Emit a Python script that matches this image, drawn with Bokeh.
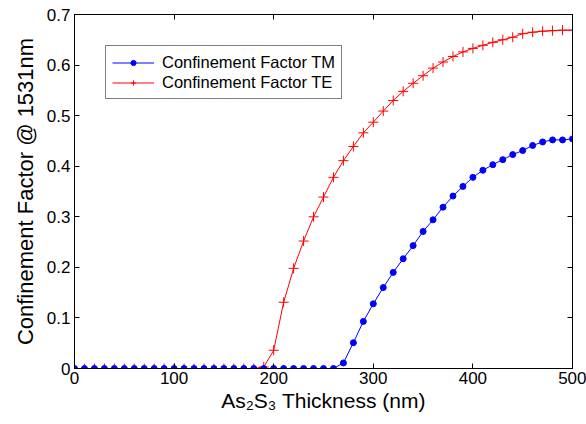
from bokeh.plotting import figure
from bokeh.models import (Range1d, LinearAxis, Legend, LegendItem, NumeralTickFormatter,
                          FixedTicker, CustomLabelingPolicy)
from bokeh.embed import file_html
from bokeh.resources import INLINE

thickness = [0, 10, 20, 30, 40, 50, 60, 70, 80, 90, 100, 110, 120, 130, 140, 150, 160, 170, 180,
             190, 200, 210, 220, 230, 240, 250, 260, 270, 280, 290, 300, 310, 320, 330, 340, 350,
             360, 370, 380, 390, 400, 410, 420, 430, 440, 450, 460, 470, 480, 490, 500]

cf_te = [0, 0, 0, 0, 0, 0, 0, 0, 0, 0, 0, 0, 0, 0, 0, 0, 0, 0, 0,
         0.003, 0.036, 0.131, 0.198, 0.252, 0.300, 0.339, 0.378, 0.411, 0.439, 0.466, 0.487,
         0.509, 0.530, 0.548, 0.564, 0.579, 0.594, 0.606, 0.617, 0.626, 0.633, 0.639, 0.645,
         0.650, 0.655, 0.662, 0.665, 0.667, 0.668, 0.669, 0.669]

cf_tm = [0, 0, 0, 0, 0, 0, 0, 0, 0, 0, 0, 0, 0, 0, 0, 0, 0, 0, 0, 0, 0, 0, 0, 0, 0, 0, 0,
         0.011, 0.051, 0.093, 0.128, 0.160, 0.190, 0.217, 0.243, 0.271, 0.294, 0.319, 0.341,
         0.360, 0.378, 0.392, 0.403, 0.413, 0.423, 0.431, 0.441, 0.448, 0.452, 0.452, 0.454]

x_ticks = [0, 100, 200, 300, 400, 500]
y_ticks = [0, 0.1, 0.2, 0.3, 0.4, 0.5, 0.6, 0.7]

FONT = "Liberation Sans"

p = figure(width=586, height=424, output_backend="svg", toolbar_location=None,
           x_range=Range1d(0, 500), y_range=Range1d(0, 0.7),
           min_border_left=74, min_border_right=14, min_border_top=14, min_border_bottom=56)
p.background_fill_color = "white"
p.border_fill_color = "white"
p.outline_line_color = "black"
p.outline_line_width = 1
p.xgrid.visible = False
p.ygrid.visible = False

tm_line = p.line(thickness, cf_tm, line_color="#0000FF", line_width=1)
te_line = p.line(thickness, cf_te, line_color="#FF0000", line_width=1)
te_pts = p.scatter(thickness, cf_te, marker="cross", size=10, line_color="#FF0000", line_width=1)
tm_pts = p.scatter(thickness, cf_tm, marker="circle", size=6, fill_color="#0000FF", line_color="#0000FF")

def style_axis(ax, labels=True):
    ax.axis_line_color = "black"
    ax.major_tick_in = 5
    ax.major_tick_out = 0
    ax.minor_tick_line_color = None
    ax.major_tick_line_color = "black"
    if labels:
        ax.major_label_text_font = FONT
        ax.major_label_text_font_size = "17px"
        ax.major_label_text_color = "black"
        ax.axis_label_text_font = FONT
        ax.axis_label_text_font_style = "normal"
        ax.axis_label_text_color = "black"
    else:
        ax.major_label_policy = CustomLabelingPolicy(code="return new Set()")
        ax.major_label_text_font_size = "0px"
        ax.major_label_standoff = 0

p.xaxis.ticker = FixedTicker(ticks=x_ticks)
p.yaxis.ticker = FixedTicker(ticks=y_ticks)
p.yaxis.formatter = NumeralTickFormatter(format="0.[0]")
for ax in p.xaxis:
    style_axis(ax)
    ax.major_label_standoff = 3
    ax.axis_label = "As\u2082S\u2083 Thickness (nm)"
    ax.axis_label_text_font_size = "21px"
    ax.axis_label_standoff = 2
for ax in p.yaxis:
    style_axis(ax)
    ax.major_label_standoff = 4
    ax.axis_label = "Confinement Factor @ 1531nm"
    ax.axis_label_text_font_size = "22px"
    ax.axis_label_standoff = 6

top_ax = LinearAxis(ticker=FixedTicker(ticks=x_ticks))
style_axis(top_ax, labels=False)
p.add_layout(top_ax, "above")
right_ax = LinearAxis(ticker=FixedTicker(ticks=y_ticks))
style_axis(right_ax, labels=False)
p.add_layout(right_ax, "right")

legend = Legend(items=[
    LegendItem(label="Confinement Factor TM", renderers=[tm_line, tm_pts]),
    LegendItem(label="Confinement Factor TE", renderers=[te_line, te_pts]),
], location=(31, 269))
legend.margin = 0
legend.padding = 6
legend.spacing = 0
legend.glyph_width = 42
legend.glyph_height = 13
legend.label_height = 20
legend.label_standoff = 8
legend.label_text_font = FONT
legend.label_text_font_size = "16.5px"
legend.label_text_color = "black"
legend.border_line_color = "black"
legend.border_line_width = 1
legend.background_fill_color = "white"
legend.background_fill_alpha = 1
p.add_layout(legend, "center")

open("out.html", "w").write(file_html(p, INLINE))
